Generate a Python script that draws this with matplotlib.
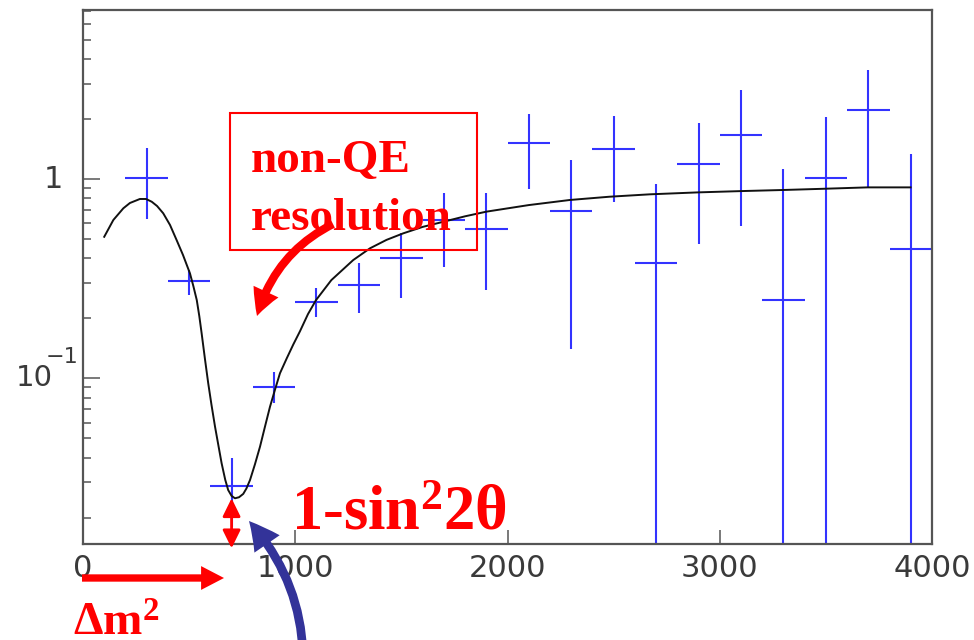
import matplotlib
matplotlib.use("Agg")
import matplotlib.pyplot as plt
import matplotlib.transforms as mtransforms
from matplotlib.patches import FancyArrowPatch, Rectangle
from matplotlib.ticker import LogLocator, NullFormatter, FixedLocator

plt.rcParams["mathtext.fontset"] = "custom"
plt.rcParams["mathtext.rm"] = "Liberation Serif:bold"
plt.rcParams["mathtext.it"] = "Liberation Serif:italic:bold"
plt.rcParams["mathtext.bf"] = "Liberation Serif:bold"

# =====================================================
# Data
# =====================================================

# measured points (bin centres, 200 wide)
bin_x = [300, 500, 700, 900, 1100, 1300, 1500, 1700, 1900, 2100,
         2300, 2500, 2700, 2900, 3100, 3300, 3500, 3700, 3900]
bin_y = [1.015, 0.308, 0.0289, 0.0907, 0.242, 0.294, 0.400, 0.623, 0.563, 1.51,
         0.693, 1.414, 0.378, 1.19, 1.66, 0.247, 1.015, 2.22, 0.444]
bin_hi = [1.43, 0.349, 0.0398, 0.108, 0.283, 0.379, 0.536, 0.851, 0.851, 2.12,
          1.245, 2.08, 0.944, 1.90, 2.80, 1.12, 2.05, 3.52, 1.335]
bin_lo = [0.63, 0.262, 0.0179, 0.0752, 0.204, 0.213, 0.253, 0.362, 0.277, 0.891,
          0.141, 0.769, 0.001, 0.470, 0.581, 0.001, 0.001, 0.915, 0.001]
bin_half = 100

# expectation curve
curve_x = [100, 143, 190, 221, 268, 297, 324, 349, 378, 410, 441, 471, 504, 520,
           536, 548, 559, 575, 590, 605, 622, 638, 653, 670, 684, 700, 716, 735,
           755, 770, 787, 810, 834, 857, 881, 905, 928, 960, 991, 1022, 1060,
           1098, 1170, 1273, 1352, 1430, 1509, 1600, 1697, 1800, 1901, 2100,
           2294, 2480, 2671, 2898, 3103, 3299, 3498, 3696, 3899]
curve_y = [0.513, 0.623, 0.713, 0.758, 0.794, 0.794, 0.769, 0.732, 0.673, 0.588,
           0.494, 0.416, 0.336, 0.29, 0.247, 0.205, 0.168, 0.124, 0.0944, 0.074,
           0.0572, 0.046, 0.0375, 0.031, 0.0275, 0.0257, 0.025, 0.0253, 0.0263,
           0.028, 0.0309, 0.037, 0.0454, 0.057, 0.072, 0.088, 0.106, 0.126,
           0.148, 0.172, 0.21, 0.247, 0.311, 0.392, 0.449, 0.495, 0.534, 0.575,
           0.61, 0.65, 0.686, 0.74, 0.785, 0.815, 0.838, 0.857, 0.87, 0.881,
           0.894, 0.908, 0.908]

x_ticks = [0, 1000, 2000, 3000, 4000]
x_labels = ["0", "1000", "2000", "3000", "4000"]

W, H = 974, 640
RED = "#ff0000"
SERIF = ["Liberation Serif", "DejaVu Serif"]
AXC = "#555555"
LABC = "#3a3a3a"


def fpx(x, y):
    # pixel position (from top-left) -> figure fraction
    return x / W, 1 - y / H


fig = plt.figure(figsize=(W / 100, H / 100), dpi=100)
ax = fig.add_axes([83 / W, 96 / H, 849 / W, 534 / H])

# =====================================================
# Data
# =====================================================

yerr = [[y - lo for y, lo in zip(bin_y, bin_lo)],
        [hi - y for y, hi in zip(bin_y, bin_hi)]]

ax.errorbar(bin_x, bin_y, xerr=bin_half, yerr=yerr, fmt="none",
            ecolor="#3333ff", elinewidth=1.5, capsize=0, zorder=2)

ax.plot(curve_x, curve_y, color="#111111", lw=1.4, zorder=3)

# =====================================================
# Axes
# =====================================================

ax.set_yscale("log")
ax.set_xlim(0, 4000)
ax.set_ylim(0.01474, 7.05)

for side in ["top", "right", "bottom", "left"]:
    ax.spines[side].set_color(AXC)
    ax.spines[side].set_linewidth(1.6)

ax.xaxis.set_major_locator(FixedLocator(x_ticks))
ax.set_xticklabels(x_labels)
ax.tick_params(axis="x", which="major", direction="in", length=10, width=1.1,
               color=AXC, labelsize=22, labelcolor=LABC, pad=7, top=False)
ax.tick_params(axis="x", which="minor", bottom=False, top=False)

ax.yaxis.set_major_locator(FixedLocator([0.1, 1]))
ax.yaxis.set_minor_locator(LogLocator(base=10, subs=range(2, 10)))
ax.yaxis.set_major_formatter(NullFormatter())
ax.yaxis.set_minor_formatter(NullFormatter())
ax.tick_params(axis="y", which="major", direction="in", length=12.5, width=1.1,
               color=AXC, right=False)
ax.tick_params(axis="y", which="minor", direction="in", length=6, width=1.1,
               color=AXC, right=False)

ytr = ax.get_yaxis_transform()
ax.text(-0.0353, 1, "1", transform=ytr, ha="center", va="center",
        fontsize=22, color=LABC)
ax.text(-0.036, 0.1, "10", transform=ytr, ha="right", va="center",
        fontsize=21, color=LABC)
ax.text(-0.044, 0.1, "\u22121",
        transform=mtransforms.offset_copy(ytr, fig=fig, x=0, y=21, units="dots"),
        ha="left", va="center", fontsize=16, color=LABC)

# =====================================================
# Annotations
# =====================================================

# box with text
bx0, by0 = fpx(230, 250)
bx1, by1 = fpx(477, 113)
fig.add_artist(Rectangle((bx0, by0), bx1 - bx0, by1 - by0,
                         transform=fig.transFigure, fill=False,
                         edgecolor=RED, lw=1.5))
fig.text(*fpx(251, 172), "non-QE", ha="left", va="baseline", fontsize=34,
         fontweight="bold", family=SERIF, color=RED)
fig.text(*fpx(251, 230), "resolution", ha="left", va="baseline", fontsize=34,
         fontweight="bold", family=SERIF, color=RED)

# curved red arrow from the box
fig.add_artist(FancyArrowPatch(
    fpx(333, 224), fpx(257, 316), transform=fig.transFigure,
    arrowstyle="simple,head_length=0.85,head_width=0.9,tail_width=0.27",
    connectionstyle="arc3,rad=0.22", mutation_scale=22,
    color=RED, lw=0, shrinkA=0, shrinkB=0))

# depth of the dip
ax.annotate("", xy=(700, -0.008), xycoords=("data", "axes fraction"),
            xytext=(700, min(curve_y)), textcoords="data",
            arrowprops=dict(arrowstyle="<|-|>,head_length=0.55,head_width=0.27",
                            mutation_scale=20, color=RED, lw=2,
                            shrinkA=0, shrinkB=0),
            annotation_clip=False)

fig.text(*fpx(291, 530), "1-sin$^2$2θ", ha="left", va="baseline", fontsize=45,
         fontweight="bold", family=SERIF, color=RED)

# position of the dip
fig.add_artist(FancyArrowPatch(
    fpx(82, 578), fpx(224, 578), transform=fig.transFigure,
    arrowstyle="simple,head_length=0.5,head_width=0.52,tail_width=0.16",
    mutation_scale=33, color=RED, lw=0, shrinkA=0, shrinkB=0))

fig.text(*fpx(73, 636), "Δm$^2$", ha="left", va="baseline", fontsize=34,
         fontweight="bold", family=SERIF, color=RED)

# blue arrow pointing at the minimum
fig.add_artist(FancyArrowPatch(
    fpx(303, 670), fpx(249, 521), transform=fig.transFigure,
    arrowstyle="simple,head_length=1.0,head_width=1.05,tail_width=0.3",
    connectionstyle="arc3,rad=0.2", mutation_scale=21,
    color="#333399", lw=0, shrinkA=0, shrinkB=0))

fig.savefig("out.png", dpi=100, facecolor="white")
plt.close(fig)
